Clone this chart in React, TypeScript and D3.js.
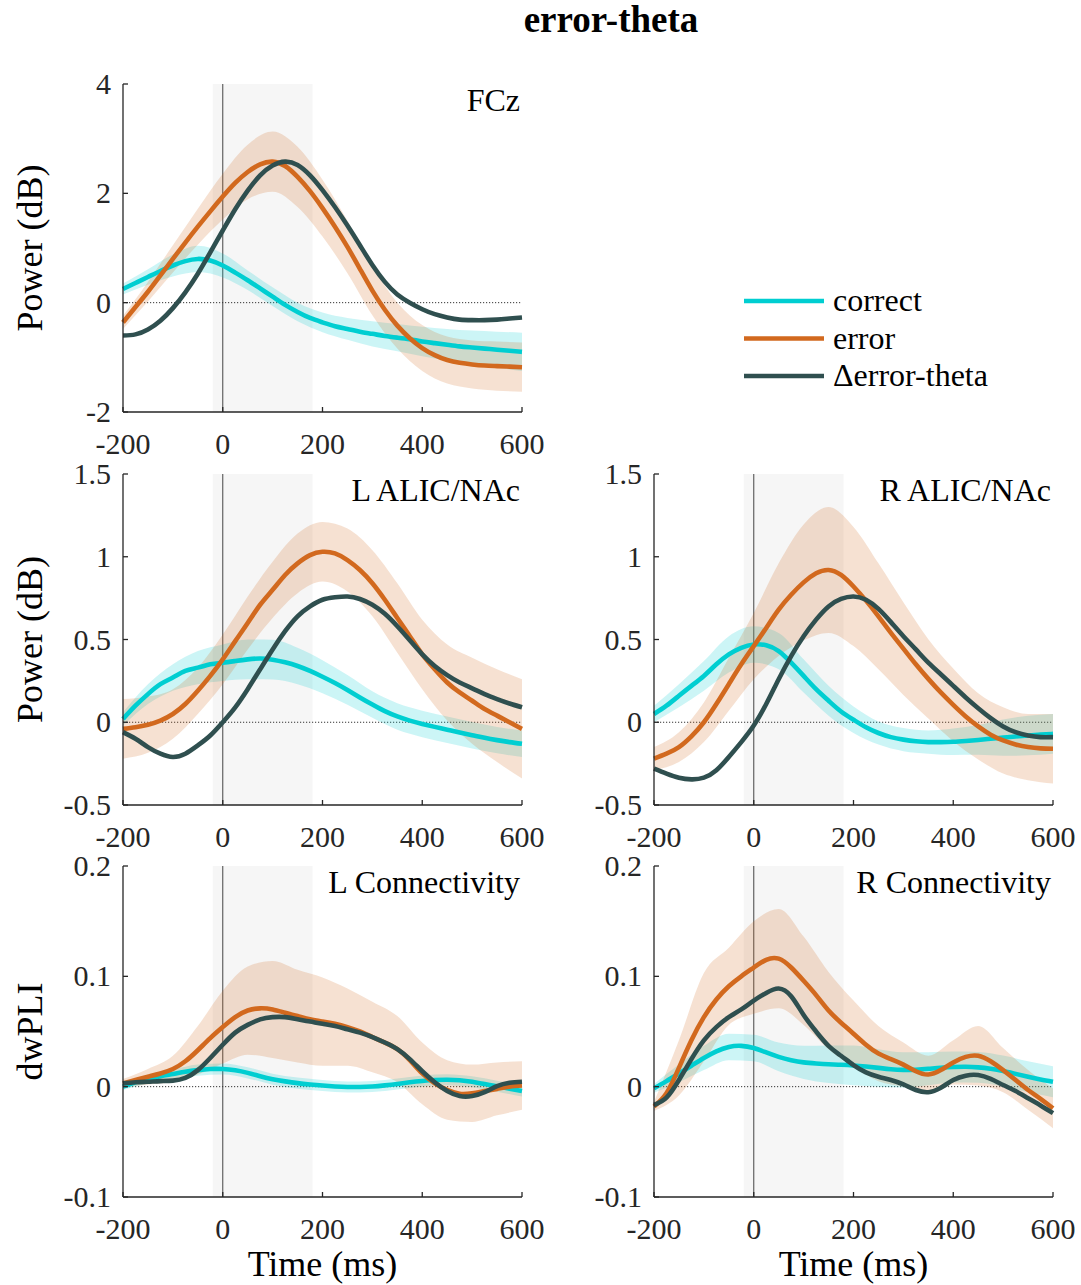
import React, { useEffect } from 'react';
import * as d3 from 'd3';

// Time grid (ms) for the mean traces, and a coarser grid for the SEM bands
const TIME = [-200, -175, -150, -125, -100, -75, -50, -25, 0, 25, 50, 75, 100, 125, 150, 175, 200, 225, 250, 275, 300, 325, 350, 375, 400, 425, 450, 475, 500, 525, 550, 575, 600];
const SEM_TIME = [-200, -150, -100, -50, 0, 50, 100, 150, 200, 250, 300, 350, 400, 450, 500, 550, 600];
const X_TICKS = [-200, 0, 200, 400, 600];
const X_DOMAIN = [-200, 600];
const SHADE_WINDOW = [-20, 180];

// FCz power (dB)
const FCZ_CORRECT = [0.25, 0.36, 0.47, 0.58, 0.68, 0.76, 0.8, 0.77, 0.68, 0.55, 0.41, 0.26, 0.11, -0.04, -0.17, -0.28, -0.36, -0.43, -0.48, -0.53, -0.57, -0.61, -0.64, -0.67, -0.71, -0.74, -0.77, -0.8, -0.82, -0.84, -0.86, -0.88, -0.9];
const FCZ_CORRECT_SEM = [0.1, 0.14, 0.2, 0.24, 0.22, 0.18, 0.17, 0.17, 0.18, 0.2, 0.23, 0.25, 0.27, 0.29, 0.31, 0.33, 0.35];
const FCZ_ERROR = [-0.36, -0.08, 0.2, 0.5, 0.8, 1.1, 1.39, 1.67, 1.94, 2.19, 2.39, 2.53, 2.58, 2.5, 2.3, 2.04, 1.73, 1.39, 1.02, 0.62, 0.22, -0.13, -0.42, -0.65, -0.83, -0.96, -1.05, -1.1, -1.13, -1.15, -1.16, -1.17, -1.18];
const FCZ_ERROR_SEM = [0.12, 0.18, 0.25, 0.33, 0.42, 0.5, 0.55, 0.55, 0.52, 0.48, 0.45, 0.42, 0.42, 0.43, 0.44, 0.45, 0.45];
const FCZ_DELTA = [-0.6, -0.58, -0.49, -0.33, -0.1, 0.19, 0.53, 0.92, 1.32, 1.71, 2.05, 2.33, 2.51, 2.58, 2.52, 2.33, 2.06, 1.75, 1.41, 1.05, 0.69, 0.38, 0.15, 0.0, -0.12, -0.21, -0.27, -0.31, -0.32, -0.32, -0.31, -0.29, -0.27];

// Left ALIC/NAc power (dB)
const LALIC_CORRECT = [0.02, 0.1, 0.17, 0.23, 0.27, 0.31, 0.33, 0.35, 0.36, 0.37, 0.38, 0.385, 0.378, 0.362, 0.34, 0.31, 0.275, 0.237, 0.195, 0.15, 0.107, 0.067, 0.035, 0.01, -0.01, -0.028, -0.045, -0.062, -0.078, -0.094, -0.108, -0.12, -0.13];
const LALIC_CORRECT_SEM = [0.04, 0.06, 0.08, 0.1, 0.11, 0.12, 0.12, 0.11, 0.1, 0.09, 0.08, 0.08, 0.08, 0.08, 0.08, 0.08, 0.08];
const LALIC_ERROR = [-0.04, -0.03, -0.015, 0.01, 0.05, 0.11, 0.19, 0.28, 0.38, 0.49, 0.6, 0.71, 0.8, 0.89, 0.96, 1.01, 1.03, 1.02, 0.98, 0.92, 0.84, 0.74, 0.63, 0.52, 0.41, 0.32, 0.24, 0.18, 0.13, 0.08, 0.04, 0.0, -0.04];
const LALIC_ERROR_SEM = [0.18, 0.17, 0.15, 0.14, 0.15, 0.16, 0.17, 0.18, 0.18, 0.19, 0.2, 0.21, 0.21, 0.23, 0.26, 0.28, 0.3];
const LALIC_DELTA = [-0.06, -0.1, -0.15, -0.19, -0.21, -0.19, -0.14, -0.08, 0.0, 0.09, 0.2, 0.32, 0.44, 0.55, 0.64, 0.7, 0.74, 0.755, 0.76, 0.745, 0.71, 0.655, 0.58, 0.495, 0.41, 0.34, 0.285, 0.24, 0.205, 0.17, 0.14, 0.113, 0.09];

// Right ALIC/NAc power (dB)
const RALIC_CORRECT = [0.05, 0.1, 0.16, 0.22, 0.28, 0.35, 0.41, 0.45, 0.47, 0.465, 0.43, 0.36, 0.28, 0.2, 0.13, 0.065, 0.015, -0.03, -0.065, -0.09, -0.105, -0.115, -0.12, -0.12, -0.118, -0.113, -0.107, -0.1, -0.093, -0.086, -0.08, -0.075, -0.07];
const RALIC_CORRECT_SEM = [0.05, 0.07, 0.09, 0.11, 0.11, 0.11, 0.1, 0.09, 0.08, 0.07, 0.07, 0.07, 0.08, 0.09, 0.11, 0.12, 0.12];
const RALIC_ERROR = [-0.22, -0.19, -0.15, -0.085, 0.0, 0.11, 0.23, 0.35, 0.46, 0.57, 0.68, 0.77, 0.845, 0.9, 0.92, 0.89, 0.82, 0.735, 0.64, 0.54, 0.445, 0.35, 0.262, 0.18, 0.105, 0.035, -0.025, -0.075, -0.11, -0.134, -0.15, -0.158, -0.16];
const RALIC_ERROR_SEM = [0.07, 0.09, 0.12, 0.16, 0.2, 0.28, 0.35, 0.38, 0.36, 0.32, 0.28, 0.24, 0.22, 0.2, 0.2, 0.2, 0.21];
const RALIC_DELTA = [-0.28, -0.31, -0.335, -0.345, -0.335, -0.29, -0.21, -0.12, -0.02, 0.11, 0.26, 0.4, 0.52, 0.62, 0.7, 0.745, 0.76, 0.74, 0.685, 0.605, 0.52, 0.44, 0.36, 0.29, 0.22, 0.15, 0.085, 0.025, -0.025, -0.06, -0.08, -0.09, -0.09];

// Left connectivity (dwPLI)
const LCONN_CORRECT = [0.0, 0.004, 0.007, 0.0095, 0.0115, 0.0135, 0.015, 0.016, 0.016, 0.0148, 0.0125, 0.0095, 0.0068, 0.0048, 0.0032, 0.002, 0.001, 0.0002, -0.0003, -0.0003, 0.0002, 0.0012, 0.0025, 0.004, 0.0052, 0.006, 0.0063, 0.0058, 0.0044, 0.0024, 0.0004, -0.0018, -0.004];
const LCONN_CORRECT_SEM = [0.003, 0.004, 0.004, 0.005, 0.005, 0.005, 0.005, 0.005, 0.005, 0.005, 0.005, 0.005, 0.005, 0.005, 0.005, 0.005, 0.005];
const LCONN_ERROR = [0.003, 0.006, 0.009, 0.012, 0.016, 0.023, 0.033, 0.044, 0.054, 0.063, 0.069, 0.071, 0.07, 0.067, 0.064, 0.061, 0.059, 0.057, 0.054, 0.05, 0.045, 0.04, 0.034, 0.024, 0.012, 0.003, -0.003, -0.0065, -0.006, -0.004, -0.002, 0.0, 0.001];
const LCONN_ERROR_SEM = [0.004, 0.007, 0.012, 0.022, 0.033, 0.04, 0.044, 0.042, 0.04, 0.035, 0.032, 0.03, 0.028, 0.027, 0.026, 0.024, 0.022];
const LCONN_DELTA = [0.003, 0.004, 0.0045, 0.005, 0.0055, 0.008, 0.015, 0.026, 0.038, 0.049, 0.056, 0.061, 0.063, 0.063, 0.061, 0.059, 0.057, 0.055, 0.052, 0.049, 0.045, 0.04, 0.034, 0.025, 0.014, 0.004, -0.004, -0.0085, -0.0085, -0.005, 0.0005, 0.0035, 0.0045];

// Right connectivity (dwPLI)
const RCONN_CORRECT = [-0.0015, 0.005, 0.012, 0.019, 0.026, 0.032, 0.036, 0.037, 0.035, 0.031, 0.027, 0.024, 0.022, 0.021, 0.0203, 0.0198, 0.0192, 0.0182, 0.017, 0.0158, 0.0152, 0.0154, 0.0162, 0.0172, 0.0178, 0.018, 0.0175, 0.0162, 0.0142, 0.0116, 0.009, 0.0066, 0.0045];
const RCONN_CORRECT_SEM = [0.004, 0.008, 0.011, 0.012, 0.012, 0.013, 0.015, 0.017, 0.018, 0.017, 0.016, 0.015, 0.014, 0.014, 0.014, 0.014, 0.014];
const RCONN_ERROR = [-0.018, -0.006, 0.017, 0.042, 0.063, 0.079, 0.091, 0.1, 0.108, 0.115, 0.116, 0.108, 0.096, 0.083, 0.069, 0.058, 0.048, 0.038, 0.03, 0.025, 0.02, 0.014, 0.011, 0.015, 0.022, 0.027, 0.028, 0.023, 0.015, 0.006, -0.003, -0.011, -0.0196];
const RCONN_ERROR_SEM = [0.004, 0.025, 0.04, 0.035, 0.042, 0.045, 0.04, 0.035, 0.03, 0.025, 0.02, 0.017, 0.02, 0.027, 0.02, 0.018, 0.018];
const RCONN_DELTA = [-0.0166, -0.01, 0.006, 0.025, 0.042, 0.054, 0.063, 0.07, 0.078, 0.085, 0.089, 0.082, 0.065, 0.05, 0.037, 0.028, 0.0196, 0.013, 0.009, 0.006, 0.002, -0.003, -0.005, -0.001, 0.006, 0.01, 0.0105, 0.007, 0.0015, -0.004, -0.0105, -0.017, -0.024];

const SERIES_NAMES = ['correct', 'error', '\u0394error-theta'];
const COLORS = { correct: '#00CED1', error: '#D2691E', delta: '#2F4F4F' };

const POWER_TICKS_FCZ = [-2, 0, 2, 4];
const POWER_TICKS_ALIC = [-0.5, 0, 0.5, 1, 1.5];
const CONN_TICKS = [-0.1, 0, 0.1, 0.2];

const FONT = '"Liberation Serif", "Times New Roman", Times, serif';
const AXIS_COLOR = '#262626';

type PanelSpec = {
  title: string;
  left: number; right: number; top: number; bottom: number;
  yDomain: [number, number];
  yTicks: number[];
  yLabel?: string;
  xLabel?: string;
  correct: number[]; correctSem: number[];
  error: number[]; errorSem: number[];
  delta: number[];
};

const PANELS: PanelSpec[] = [
  { title: 'FCz', left: 123, right: 522, top: 84, bottom: 412, yDomain: [-2, 4], yTicks: POWER_TICKS_FCZ, yLabel: 'Power (dB)',
    correct: FCZ_CORRECT, correctSem: FCZ_CORRECT_SEM, error: FCZ_ERROR, errorSem: FCZ_ERROR_SEM, delta: FCZ_DELTA },
  { title: 'L ALIC/NAc', left: 123, right: 522, top: 474, bottom: 805, yDomain: [-0.5, 1.5], yTicks: POWER_TICKS_ALIC, yLabel: 'Power (dB)',
    correct: LALIC_CORRECT, correctSem: LALIC_CORRECT_SEM, error: LALIC_ERROR, errorSem: LALIC_ERROR_SEM, delta: LALIC_DELTA },
  { title: 'R ALIC/NAc', left: 654, right: 1053, top: 474, bottom: 805, yDomain: [-0.5, 1.5], yTicks: POWER_TICKS_ALIC,
    correct: RALIC_CORRECT, correctSem: RALIC_CORRECT_SEM, error: RALIC_ERROR, errorSem: RALIC_ERROR_SEM, delta: RALIC_DELTA },
  { title: 'L Connectivity', left: 123, right: 522, top: 866, bottom: 1197, yDomain: [-0.1, 0.2], yTicks: CONN_TICKS, yLabel: 'dwPLI', xLabel: 'Time (ms)',
    correct: LCONN_CORRECT, correctSem: LCONN_CORRECT_SEM, error: LCONN_ERROR, errorSem: LCONN_ERROR_SEM, delta: LCONN_DELTA },
  { title: 'R Connectivity', left: 654, right: 1053, top: 866, bottom: 1197, yDomain: [-0.1, 0.2], yTicks: CONN_TICKS, xLabel: 'Time (ms)',
    correct: RCONN_CORRECT, correctSem: RCONN_CORRECT_SEM, error: RCONN_ERROR, errorSem: RCONN_ERROR_SEM, delta: RCONN_DELTA },
];

const fmt = (v: number) => String(v);

function Panel({ p }: { p: PanelSpec }) {
  const x = d3.scaleLinear().domain(X_DOMAIN).range([p.left, p.right]);
  const y = d3.scaleLinear().domain(p.yDomain).range([p.bottom, p.top]);
  const curve = d3.curveNatural;

  const line = d3.line<number>()
    .x((_, i) => x(TIME[i]))
    .y((v) => y(v))
    .curve(curve);

  const band = (mean: number[], sem: number[]) => {
    const pts = SEM_TIME.map((t, i) => {
      const m = mean[TIME.indexOf(t)];
      return { t, lo: m - sem[i], hi: m + sem[i] };
    });
    return d3.area<{ t: number; lo: number; hi: number }>()
      .x((d) => x(d.t))
      .y0((d) => y(d.lo))
      .y1((d) => y(d.hi))
      .curve(d3.curveMonotoneX)(pts) || '';
  };

  const tickLen = 5;
  return (
    <g>
      {/* response window shading */}
      <rect x={x(SHADE_WINDOW[0])} y={p.top} width={x(SHADE_WINDOW[1]) - x(SHADE_WINDOW[0])} height={p.bottom - p.top} fill="#f6f6f6" />
      {/* event onset */}
      <line x1={x(0)} x2={x(0)} y1={p.top} y2={p.bottom} stroke="#555" strokeWidth={1.1} />
      {/* baseline */}
      <line x1={x(X_DOMAIN[0])} x2={x(X_DOMAIN[1])} y1={y(0)} y2={y(0)} stroke="#333" strokeWidth={1} strokeDasharray="1.2 1.8" />

      <path d={band(p.correct, p.correctSem)} fill={COLORS.correct} fillOpacity={0.2} />
      <path d={band(p.error, p.errorSem)} fill={COLORS.error} fillOpacity={0.2} />

      <path d={line(p.correct) || ''} fill="none" stroke={COLORS.correct} strokeWidth={4.6} />
      <path d={line(p.error) || ''} fill="none" stroke={COLORS.error} strokeWidth={4.6} />
      <path d={line(p.delta) || ''} fill="none" stroke={COLORS.delta} strokeWidth={4.6} />

      {/* axes */}
      <line x1={p.left} x2={p.right} y1={p.bottom} y2={p.bottom} stroke={AXIS_COLOR} strokeWidth={1.3} />
      <line x1={p.left} x2={p.left} y1={p.top} y2={p.bottom} stroke={AXIS_COLOR} strokeWidth={1.3} />
      {X_TICKS.map((t) => (
        <g key={'xt' + t}>
          <line x1={x(t)} x2={x(t)} y1={p.bottom} y2={p.bottom - tickLen} stroke={AXIS_COLOR} strokeWidth={1.3} />
          <text x={x(t)} y={p.bottom + 42} textAnchor="middle" fontFamily={FONT} fontSize={30} fill={AXIS_COLOR}>{fmt(t)}</text>
        </g>
      ))}
      {p.yTicks.map((t) => (
        <g key={'yt' + t}>
          <line x1={p.left} x2={p.left + tickLen} y1={y(t)} y2={y(t)} stroke={AXIS_COLOR} strokeWidth={1.3} />
          <text x={p.left - 12} y={y(t) + 10} textAnchor="end" fontFamily={FONT} fontSize={30} fill={AXIS_COLOR}>{fmt(t)}</text>
        </g>
      ))}
      <text x={p.right - 2} y={p.top + 27} textAnchor="end" fontFamily={FONT} fontSize={32} fill="#000">{p.title}</text>
      {p.yLabel && (
        <text transform={`translate(42,${(p.top + p.bottom) / 2}) rotate(-90)`} textAnchor="middle" fontFamily={FONT} fontSize={36} fill="#000">{p.yLabel}</text>
      )}
      {p.xLabel && (
        <text x={(p.left + p.right) / 2} y={1276} textAnchor="middle" fontFamily={FONT} fontSize={36} fill="#000">{p.xLabel}</text>
      )}
    </g>
  );
}

function Legend() {
  const rows = [COLORS.correct, COLORS.error, COLORS.delta];
  const ys = d3.scalePoint<number>().domain([0, 1, 2]).range([301, 376]);
  return (
    <g>
      {SERIES_NAMES.map((name, i) => (
        <g key={name}>
          <line x1={744} x2={824} y1={ys(i)} y2={ys(i)} stroke={rows[i]} strokeWidth={4.6} />
          <text x={833} y={(ys(i) || 0) + 10} fontFamily={FONT} fontSize={32} fill="#000">{name}</text>
        </g>
      ))}
    </g>
  );
}

export default function App() {
  useEffect(() => {
    document.body.style.margin = '0';
  }, []);
  return (
    <svg width={1081} height={1285} style={{ position: 'absolute', left: 0, top: 0, background: '#fff' }}>
      <rect x={0} y={0} width={1081} height={1285} fill="#fff" />
      <text x={611} y={32} textAnchor="middle" fontFamily={FONT} fontWeight="bold" fontSize={37} fill="#000">error-theta</text>
      {PANELS.map((p) => <Panel key={p.title} p={p} />)}
      <Legend />
    </svg>
  );
}
